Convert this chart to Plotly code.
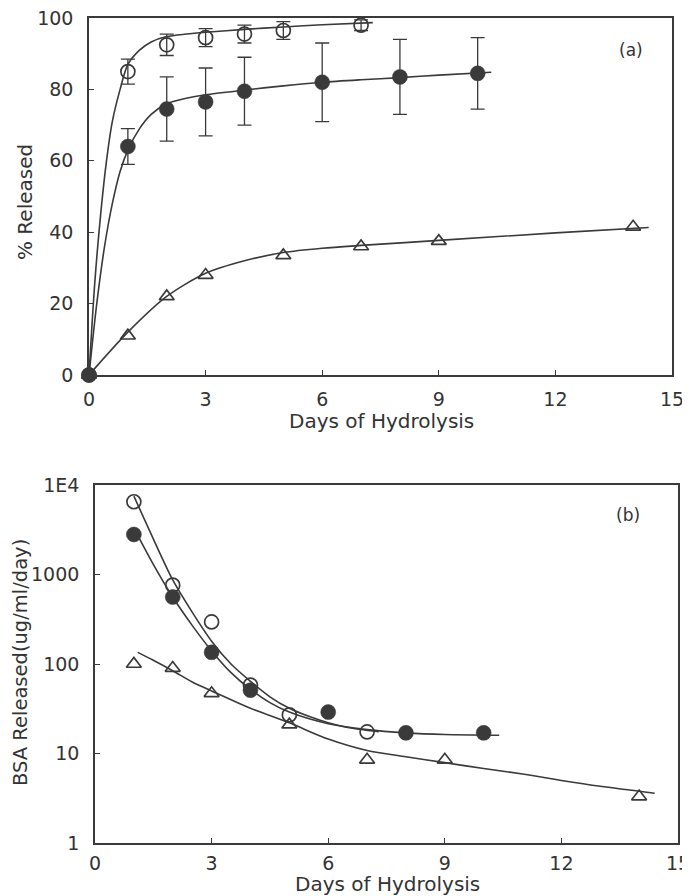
import plotly.graph_objects as go

# ---------------- Panel (a): cumulative % released ----------------
days_open_a = [0, 1, 2, 3, 4, 5, 7]
rel_open_a = [0, 85, 92.5, 94.5, 95.5, 96.5, 98]
err_open_a = [0, 3.5, 3, 2.5, 2.5, 2.5, 1.5]

days_fill_a = [0, 1, 2, 3, 4, 6, 8, 10]
rel_fill_a = [0, 64, 74.5, 76.5, 79.5, 82, 83.5, 84.5]
err_fill_a = [0, 5, 9, 9.5, 9.5, 11, 10.5, 10]

days_tri_a = [0, 1, 2, 3, 5, 7, 9, 14]
rel_tri_a = [0, 11, 22, 28, 33.5, 36, 37.5, 41.5]

# fitted curves
fit_open_a_x = [0, 0.15, 0.3, 0.45, 0.6, 0.8, 1.0, 1.3, 1.6, 2.0, 2.5, 3, 4, 5, 6, 7.3]
fit_open_a_y = [0, 26, 45, 60, 71, 80, 87, 91, 93.3, 94.8, 95.5, 96, 96.8, 97.5, 98.1, 98.7]
fit_fill_a_x = [0, 0.2, 0.4, 0.6, 0.8, 1.0, 1.3, 1.6, 2.0, 2.5, 3, 4, 5, 6, 7, 8, 9, 10.35]
fit_fill_a_y = [0, 20, 36, 48, 57, 63, 69, 73, 76, 77.5, 78.5, 79.8, 81, 82, 82.7, 83.3, 84, 84.8]
fit_tri_a_x = [0, 1, 2, 3, 4, 5, 6, 7, 9, 12, 14.4]
fit_tri_a_y = [0, 12, 22, 28.5, 32, 34.3, 35.5, 36.3, 37.7, 39.8, 41.3]

# ---------------- Panel (b): release rate (log) ----------------
days_open_b = [1, 2, 3, 4, 5, 7]
rate_open_b = [6500, 760, 295, 58, 27, 17.4]
days_fill_b = [1, 2, 3, 4, 6, 8, 10]
rate_fill_b = [2800, 560, 135, 51, 29, 17, 17]
days_tri_b = [1, 2, 3, 5, 7, 9, 14]
rate_tri_b = [100, 90, 47, 21, 8.5, 8.5, 3.3]

fit_open_b_x = [1, 1.5, 2, 2.5, 3, 3.5, 4, 4.5, 5, 5.5, 6, 6.5, 7.3]
fit_open_b_y = [7500, 2500, 870, 380, 180, 100, 64, 43, 32, 26, 22, 19.5, 17.5]
fit_fill_b_x = [1, 1.5, 2, 2.5, 3, 3.5, 4, 4.5, 5, 6, 7, 8, 9, 10.4]
fit_fill_b_y = [3300, 1300, 560, 270, 140, 80, 52, 37, 29, 21.5, 18.5, 17, 16.3, 16]
fit_tri_b_x = [1.1, 1.5, 2, 2.5, 3, 4, 5, 6, 7, 8, 9, 10, 11, 12, 13, 14.4]
fit_tri_b_y = [135, 110, 84, 63, 50, 32, 22, 14.5, 10.8, 9.2, 7.9, 6.8, 5.9, 5.0, 4.3, 3.6]

x_ticks = [0, 3, 6, 9, 12, 15]
y_ticks_a = [0, 20, 40, 60, 80, 100]
y_ticks_b = [1, 10, 100, 1000, 10000]
y_ticktext_b = ["1", "10", "100", "1000", "1E4"]

INK = "#3a3a3a"
FONT = "DejaVu Sans"
W, H = 690, 896
OFF = 8  # page body margin offset

fig = go.Figure()

def line(x, y, xa, ya):
    fig.add_trace(go.Scatter(x=x, y=y, mode="lines", xaxis=xa, yaxis=ya,
                             line=dict(color=INK, width=1.6, shape="spline", smoothing=0.8),
                             hoverinfo="skip", showlegend=False))

def marks(x, y, xa, ya, symbol, size, err=None, filled=False):
    m = dict(symbol=symbol, size=size, color=INK,
             line=dict(color=INK, width=1.7))
    if filled:
        m["line"] = dict(color=INK, width=0.5)
    kw = {}
    if err is not None:
        kw["error_y"] = dict(type="data", array=err, visible=True, color=INK,
                             thickness=1.3, width=7)
    fig.add_trace(go.Scatter(x=x, y=y, mode="markers", xaxis=xa, yaxis=ya,
                             marker=m, cliponaxis=False, showlegend=False, **kw))

# panel a
line(fit_open_a_x, fit_open_a_y, "x", "y")
line(fit_fill_a_x, fit_fill_a_y, "x", "y")
line(fit_tri_a_x, fit_tri_a_y, "x", "y")
marks(days_tri_a, rel_tri_a, "x", "y", "triangle-up-open", 13)
marks(days_open_a, rel_open_a, "x", "y", "circle-open", 14, err=err_open_a)
marks(days_fill_a, rel_fill_a, "x", "y", "circle", 15, err=err_fill_a, filled=True)

# panel b
line(fit_open_b_x, fit_open_b_y, "x2", "y2")
line(fit_fill_b_x, fit_fill_b_y, "x2", "y2")
line(fit_tri_b_x, fit_tri_b_y, "x2", "y2")
marks(days_tri_b, rate_tri_b, "x2", "y2", "triangle-up-open", 13)
marks(days_open_b, rate_open_b, "x2", "y2", "circle-open", 14)
marks(days_fill_b, rate_fill_b, "x2", "y2", "circle", 15, filled=True)

axis_common = dict(showline=True, mirror=True, linecolor=INK, linewidth=1.6,
                   ticks="inside", ticklen=5, tickwidth=1.3, tickcolor=INK,
                   showgrid=False, zeroline=False, automargin=False,
                   ticklabeloverflow="allow",
                   tickfont=dict(family=FONT, size=19, color="#333"))

# pixel geometry (screen pixels, corrected for page offset)
ax_l, ax_r, ay_t, ay_b = 89 - OFF, 672 - OFF, 18 - OFF, 375 - OFF
bx_l, bx_r, by_t, by_b = 95 - OFF, 678 - OFF, 485 - OFF, 843 - OFF

fig.update_layout(
    width=W, height=H, margin=dict(l=0, r=0, t=0, b=0, autoexpand=False),
    paper_bgcolor="white", plot_bgcolor="white",
    xaxis=dict(domain=[ax_l / W, ax_r / W], range=[0, 15], tickvals=x_ticks,
               anchor="y", ticklabelstandoff=6, **axis_common),
    yaxis=dict(domain=[1 - ay_b / H, 1 - ay_t / H], range=[0, 100], tickvals=y_ticks_a,
               anchor="x", ticklabelstandoff=10, **axis_common),
    xaxis2=dict(domain=[bx_l / W, bx_r / W], range=[0, 15], tickvals=x_ticks,
                anchor="y2", ticklabelstandoff=2, **axis_common),
    yaxis2=dict(domain=[1 - by_b / H, 1 - by_t / H], type="log", range=[0, 4],
                tickvals=y_ticks_b, ticktext=y_ticktext_b,
                anchor="x2", ticklabelstandoff=10, **axis_common),
)

def txt(text, x, y, size=20, angle=0):
    fig.add_annotation(text=text, x=(x - OFF) / W, y=1 - (y - OFF) / H,
                       xref="paper", yref="paper",
                       showarrow=False, textangle=angle, xanchor="center", yanchor="middle",
                       font=dict(family=FONT, size=size, color="#333"))

txt("Days of Hydrolysis", 381, 421)
txt("% Released", 25, 202, angle=-90)
txt("(a)", 631, 50, size=17)
txt("Days of Hydrolysis", 387, 884)
txt("BSA Released(ug/ml/day)", 20, 663, size=19.5, angle=-90)
txt("(b)", 628, 515, size=17)

fig.write_html("out.html")
